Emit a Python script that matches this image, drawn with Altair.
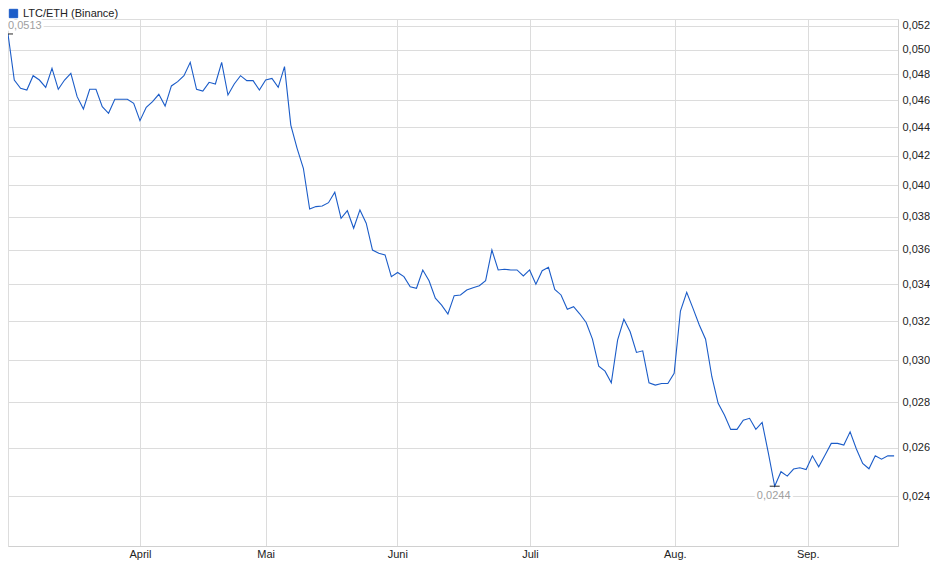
import altair as alt
import pandas as pd

series_name = "LTC/ETH (Binance)"

values = [
    0.0513, 0.04756, 0.04692, 0.04678, 0.04790, 0.04756, 0.04699, 0.04849, 0.04684, 0.04756,
    0.04809, 0.04628, 0.04535, 0.04684, 0.04684, 0.04552, 0.04503, 0.04608, 0.04608, 0.04608,
    0.04578, 0.04449, 0.04547, 0.04590, 0.04646, 0.04557, 0.04710, 0.04743, 0.04790, 0.04896,
    0.04684, 0.04671, 0.04738, 0.04725, 0.04896, 0.04640, 0.04725, 0.04790, 0.04751, 0.04751,
    0.04678, 0.04756, 0.04769, 0.04699, 0.04862, 0.04417, 0.04251, 0.04114, 0.03848, 0.03863,
    0.03867, 0.03888, 0.03955, 0.03789, 0.03837, 0.03728, 0.03842, 0.03759, 0.03597, 0.03578,
    0.03568, 0.03443, 0.03467, 0.03443, 0.03386, 0.03378, 0.03481, 0.03420, 0.03323, 0.03286,
    0.03238, 0.03337, 0.03341, 0.03368, 0.03381, 0.03392, 0.03420, 0.03597, 0.03481, 0.03485,
    0.03481, 0.03481, 0.03447, 0.03481, 0.03401, 0.03477, 0.03496, 0.03372, 0.03341, 0.03263,
    0.03277, 0.03238, 0.03193, 0.03107, 0.02972, 0.02948, 0.02892, 0.03102, 0.03210, 0.03145,
    0.03040, 0.03048, 0.02892, 0.02881, 0.02889, 0.02889, 0.02937, 0.03254, 0.03355, 0.03268,
    0.03180, 0.03107, 0.02921, 0.02796, 0.02743, 0.02679, 0.02679, 0.02720, 0.02728, 0.02679,
    0.02710, 0.02575, 0.0244, 0.02499, 0.02481, 0.02510, 0.02515, 0.02508, 0.02565, 0.02519,
    0.02567, 0.02618, 0.02618, 0.02611, 0.02668, 0.02594, 0.02533, 0.02511, 0.02565, 0.02551,
    0.02565, 0.02565,
]

month_labels = ["April", "Mai", "Juni", "Juli", "Aug.", "Sep."]
month_positions = [21.0, 41.0, 61.95, 83.06, 106.1, 127.25]
y_ticks = [0.024, 0.026, 0.028, 0.030, 0.032, 0.034, 0.036, 0.038,
           0.040, 0.042, 0.044, 0.046, 0.048, 0.050, 0.052]
x_domain = [0.0, 141.62]
y_domain = [0.022118, 0.052576]

LINE_COLOR = "#1b5cc8"
GRID = "#dcdcdc"
FONT = "Liberation Sans"

df = pd.DataFrame({"i": list(range(len(values))), "v": values, "s": series_name})

imax = int(df["v"].idxmax())
imin = int(df["v"].idxmin())


def fmt(v):
    return f"{v:.4f}".replace(".", ",")


ext = pd.DataFrame({
    "i": [imax, imin],
    "v": [values[imax], values[imin]],
    "label": [fmt(values[imax]), fmt(values[imin])],
    "kind": ["max", "min"],
})

x_label_expr = "".join(
    f"abs(datum.value - {p}) < 0.01 ? '{l}' : " for p, l in zip(month_positions, month_labels)
) + "''"

x_enc = alt.X(
    "i:Q",
    scale=alt.Scale(domain=x_domain, nice=False, zero=False),
    axis=alt.Axis(
        values=month_positions, labelExpr=x_label_expr, title=None, grid=True,
        gridColor=GRID, ticks=False, domain=True, domainColor="#d0d0d0",
        labelFontSize=11, labelColor="#222222", labelPadding=2, labelFont=FONT,
    ),
)
y_enc = alt.Y(
    "v:Q",
    scale=alt.Scale(type="log", domain=y_domain, nice=False, zero=False),
    axis=alt.Axis(
        orient="right", values=y_ticks,
        labelExpr="replace(format(datum.value, '.3f'), '.', ',')",
        title=None, grid=True, gridColor=GRID, ticks=False, domain=True,
        domainColor="#d0d0d0", labelPadding=4, labelFontSize=11,
        labelColor="#222222", labelFont=FONT,
    ),
)

line = alt.Chart(df).mark_line(strokeWidth=1.1).encode(
    x=x_enc,
    y=y_enc,
    color=alt.Color(
        "s:N",
        scale=alt.Scale(range=[LINE_COLOR]),
        legend=alt.Legend(
            title=None, orient="none", legendX=0, legendY=-11,
            symbolType="square", symbolSize=70, symbolFillColor=LINE_COLOR,
            symbolStrokeWidth=1, labelFontSize=11, labelColor="#222222",
            labelFont=FONT, padding=0, labelOffset=4,
        ),
    ),
)

ticks = alt.Chart(ext).mark_tick(orient="horizontal", size=10, thickness=1.2, color="black").encode(
    x="i:Q", y="v:Q"
)

max_df = ext[ext["kind"] == "max"]
min_df = ext[ext["kind"] == "min"]

max_halo = alt.Chart(max_df).mark_text(
    align="left", baseline="middle", dx=0, dy=-8, fontSize=11, font=FONT,
    color="white", stroke="white", strokeWidth=5,
).encode(x="i:Q", y="v:Q", text="label:N")
max_text = alt.Chart(max_df).mark_text(
    align="left", baseline="middle", dx=0, dy=-8, fontSize=11, font=FONT, color="#a0a0a0",
).encode(x="i:Q", y="v:Q", text="label:N")

min_halo = alt.Chart(min_df).mark_text(
    align="center", baseline="middle", dx=-1, dy=10, fontSize=11, font=FONT,
    color="white", stroke="white", strokeWidth=5,
).encode(x="i:Q", y="v:Q", text="label:N")
min_text = alt.Chart(min_df).mark_text(
    align="center", baseline="middle", dx=-1, dy=10, fontSize=11, font=FONT, color="#a0a0a0",
).encode(x="i:Q", y="v:Q", text="label:N")

chart = alt.layer(
    line, max_halo, min_halo, ticks, max_text, min_text
).properties(
    width=890, height=527,
    autosize=alt.AutoSizeParams(type="none"),
    padding={"left": 0, "top": 11, "right": 32, "bottom": 16},
).configure_view(
    stroke="#d6d6d6", strokeWidth=1
).configure(
    font=FONT
)

chart.save("out.html", embed_options={"renderer": "svg", "actions": False})
